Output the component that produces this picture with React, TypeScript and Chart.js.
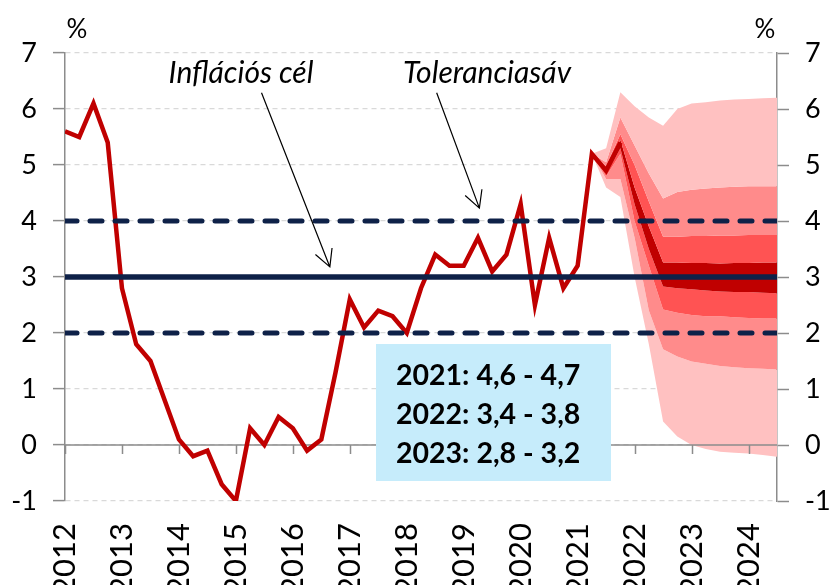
import { useEffect, useRef } from "react";
import { Chart, registerables } from "chart.js";
Chart.register(...registerables);

// ---- data ----
const yearLabels = ["2012", "2013", "2014", "2015", "2016", "2017", "2018", "2019", "2020", "2021", "2022", "2023", "2024"];
// quarterly CPI, 2012Q1 .. 2021Q4 (index 0..39)
const cpiHistory = [
  5.6, 5.5, 6.1, 5.4, 2.8, 1.8, 1.5, 0.8, 0.1, -0.2, -0.1, -0.7, -1.0, 0.3, 0.0, 0.5, 0.3, -0.1, 0.1, 1.3,
  2.6, 2.1, 2.4, 2.3, 2.0, 2.8, 3.4, 3.2, 3.2, 3.7, 3.1, 3.4, 4.3, 2.5, 3.7, 2.8, 3.2, 5.2, 4.9, 5.4,
];
// fan chart boundaries from index 37 to 50
const fanStart = 37;
const fanLightTop = [5.2, 5.3, 6.3, 6.05, 5.85, 5.7, 6.0, 6.1, 6.12, 6.15, 6.17, 6.18, 6.19, 6.2];
const fanMidTop = [5.2, 5.05, 5.85, 5.35, 4.85, 4.4, 4.52, 4.56, 4.58, 4.6, 4.61, 4.62, 4.62, 4.62];
const fanInnerTop = [5.2, 4.98, 5.55, 5.0, 4.35, 3.72, 3.72, 3.73, 3.73, 3.74, 3.74, 3.75, 3.75, 3.75];
const fanDarkTop = [5.2, 4.95, 5.45, 4.6, 3.9, 3.26, 3.26, 3.25, 3.25, 3.24, 3.25, 3.25, 3.26, 3.26];
const fanDarkBottom = [5.2, 4.85, 5.3, 4.3, 3.5, 2.83, 2.8, 2.78, 2.76, 2.74, 2.73, 2.73, 2.72, 2.71];
const fanInnerBottom = [5.2, 4.8, 5.2, 4.0, 3.2, 2.42, 2.36, 2.32, 2.3, 2.3, 2.28, 2.27, 2.26, 2.26];
const fanMidBottom = [5.2, 4.75, 4.75, 3.7, 2.4, 1.71, 1.58, 1.49, 1.45, 1.41, 1.39, 1.37, 1.36, 1.35];
const fanLightBottom = [5.2, 4.6, 4.43, 3.0, 1.8, 0.42, 0.15, 0.0, -0.07, -0.12, -0.14, -0.15, -0.18, -0.21];

const inflationTarget = 3;
const toleranceBand = [2, 4];
const yMin = -1;
const yMax = 7;
const boxLines = ["2021: 4,6 - 4,7", "2022: 3,4 - 3,8", "2023: 2,8 - 3,2"];
const targetLabel = "Inflációs cél";
const bandLabel = "Toleranciasáv";
const unitLabel = "%";

const lastIndex = fanStart + fanLightTop.length - 1;

const NAVY = "#0E2148";
const RED = "#C00000";
const C_LIGHT = "#FFC1C1";
const C_MID = "#FF8B8B";
const C_INNER = "#FF5353";
const C_DARK = "#C00000";
const FONT = "Lato, 'Open Sans', sans-serif";
const RED_INDEX = 3;

const toPts = (arr: number[], start: number) => arr.map((v, i) => ({ x: start + i, y: v }));
const flat = (v: number) => [{ x: 0, y: v }, { x: lastIndex, y: v }];

function drawArrow(ctx: CanvasRenderingContext2D, x1: number, y1: number, x2: number, y2: number) {
  const ang = Math.atan2(y2 - y1, x2 - x1);
  const L = 19;
  const a = (28 * Math.PI) / 180;
  ctx.beginPath();
  ctx.moveTo(x1, y1);
  ctx.lineTo(x2, y2);
  ctx.moveTo(x2 - L * Math.cos(ang - a), y2 - L * Math.sin(ang - a));
  ctx.lineTo(x2, y2);
  ctx.lineTo(x2 - L * Math.cos(ang + a), y2 - L * Math.sin(ang + a));
  ctx.stroke();
}

const overlayPlugin = {
  id: "overlay",
  beforeDatasetDraw(chart: any, args: any) {
    if (args.index !== RED_INDEX) return;
    const { ctx, scales } = chart;
    const x = scales.x;
    const y = scales.y;
    const y0 = y.getPixelForValue(0);
    ctx.save();
    ctx.strokeStyle = "#8C8C8C";
    ctx.lineWidth = 1.5;
    ctx.beginPath();
    ctx.moveTo(x.left, y0);
    ctx.lineTo(x.right, y0);
    yearLabels.forEach((_, i) => {
      const px = Math.round(x.getPixelForValue(i * 4)) + 0.5;
      ctx.moveTo(px, y0);
      ctx.lineTo(px, y0 + 9);
    });
    ctx.stroke();
    ctx.restore();
  },
  afterDatasetsDraw(chart: any) {
    const { ctx, scales } = chart;
    const x = scales.x;
    const y = scales.y;
    ctx.save();
    // info box
    const bx1 = 376, by1 = 344, bx2 = 611, by2 = 481;
    ctx.fillStyle = "#C6ECFB";
    ctx.fillRect(bx1, by1, bx2 - bx1, by2 - by1);
    ctx.fillStyle = "#000";
    ctx.font = `bold 28.5px ${FONT}`;
    ctx.textAlign = "left";
    ctx.textBaseline = "alphabetic";
    const baselines = [385, 424, 463];
    boxLines.forEach((t, i) => ctx.fillText(t, 396, baselines[i]));

    // annotations
    ctx.font = `italic 30px ${FONT}`;
    ctx.textAlign = "center";
    ctx.fillText(targetLabel, 241, 83);
    ctx.fillText(bandLabel, 487, 83);
    ctx.strokeStyle = "#000";
    ctx.lineWidth = 1.2;
    drawArrow(ctx, x.getPixelForValue(13.8), y.getPixelForValue(6.29), x.getPixelForValue(18.6), y.getPixelForValue(3.18));
    drawArrow(ctx, x.getPixelForValue(26.1), y.getPixelForValue(6.29), x.getPixelForValue(29.1), y.getPixelForValue(4.23));

    // unit labels
    ctx.font = `26px ${FONT}`;
    ctx.fillText(unitLabel, 77, 38);
    ctx.fillText(unitLabel, 765, 38);
    ctx.restore();
  },
};

export default function App() {
  const ref = useRef<HTMLCanvasElement | null>(null);
  useEffect(() => {
    if (!ref.current) return;
    const band = (data: number[], color: string | null) => ({
      data: toPts(data, fanStart),
      borderWidth: 0,
      pointRadius: 0,
      backgroundColor: color || "transparent",
      fill: color ? "+1" : false,
      tension: 0,
    });
    const axisTickFont = { family: FONT, size: 27 };
    const yCommon = {
      min: yMin,
      max: yMax,
      ticks: { stepSize: 1, color: "#000", font: axisTickFont, padding: 16 },
      border: { display: true, color: "#8C8C8C", width: 1.5, dash: [5, 4] },
    };
    const chart = new Chart(ref.current, {
      type: "line",
      data: {
        datasets: [
          { data: flat(inflationTarget), borderColor: NAVY, borderWidth: 5.5, pointRadius: 0, fill: false },
          { data: flat(toleranceBand[0]), borderColor: NAVY, borderWidth: 5, borderDash: [12, 13], borderCapStyle: "round", pointRadius: 0, fill: false },
          { data: flat(toleranceBand[1]), borderColor: NAVY, borderWidth: 5, borderDash: [12, 13], borderCapStyle: "round", pointRadius: 0, fill: false },
          { data: toPts(cpiHistory, 0), borderColor: RED, borderWidth: 4.5, pointRadius: 0, fill: false, tension: 0, borderJoinStyle: "miter" },
          band(fanLightTop, C_LIGHT),
          band(fanMidTop, C_MID),
          band(fanInnerTop, C_INNER),
          band(fanDarkTop, C_DARK),
          band(fanDarkBottom, C_INNER),
          band(fanInnerBottom, C_MID),
          band(fanMidBottom, C_LIGHT),
          band(fanLightBottom, null),
        ] as any,
      },
      options: {
        animation: false,
        responsive: false,
        layout: { padding: { top: 53, left: 0, right: 0, bottom: 0 } },
        plugins: { legend: { display: false }, tooltip: { enabled: false }, title: { display: false } },
        scales: {
          x: {
            type: "linear",
            min: 0,
            max: lastIndex,
            afterBuildTicks: (s: any) => {
              s.ticks = yearLabels.map((_, i) => ({ value: i * 4 }));
            },
            afterFit: (s: any) => {
              s.height = 84;
            },
            grid: { display: false, drawTicks: false },
            border: { display: false },
            ticks: {
              autoSkip: false,
              minRotation: 90,
              maxRotation: 90,
              padding: 22,
              color: "#000",
              font: { family: FONT, size: 31 },
              callback: (v: any) => yearLabels[Math.round(v / 4)],
            },
          },
          y: {
            ...yCommon,
            position: "left",
            afterFit: (s: any) => {
              s.width = 65;
            },
            grid: { color: "#D9D9D9", lineWidth: 1.2, tickColor: "#8C8C8C", tickLength: 12, tickWidth: 1.5, tickBorderDash: [] },
          },
          y2: {
            ...yCommon,
            position: "right",
            afterFit: (s: any) => {
              s.width = 55;
            },
            grid: { drawOnChartArea: false, tickColor: "#8C8C8C", tickLength: 12, tickWidth: 1.5, tickBorderDash: [] },
          },
        },
      } as any,
      plugins: [overlayPlugin],
    });
    return () => chart.destroy();
  }, []);
  return (
    <div style={{ position: "fixed", left: 0, top: 0, width: 832, height: 585, background: "#fff" }}>
      <canvas ref={ref} width={832} height={585} />
    </div>
  );
}
